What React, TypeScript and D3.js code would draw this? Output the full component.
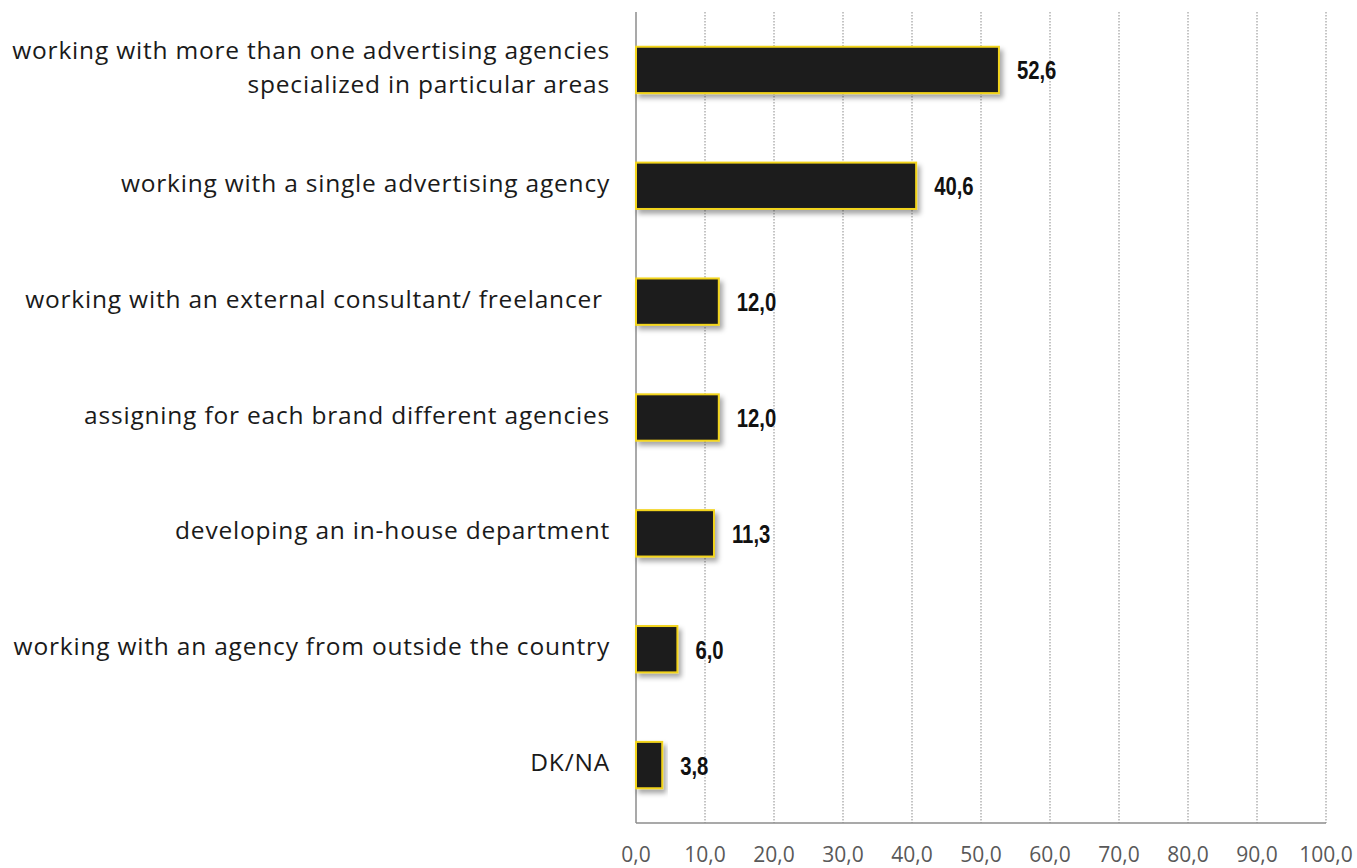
import React from "react";
import * as d3 from "d3";

const categories: string[][] = [
  ["working with more than one advertising agencies", "specialized in particular areas"],
  ["working with a single advertising agency"],
  ["working with an external consultant/ freelancer "],
  ["assigning for each brand different agencies"],
  ["developing an in-house department"],
  ["working with an agency from outside the country"],
  ["DK/NA"],
];
const values: number[] = [52.6, 40.6, 12.0, 12.0, 11.3, 6.0, 3.8];
const tickValues: number[] = [0, 10, 20, 30, 40, 50, 60, 70, 80, 90, 100];

const W = 1357;
const H = 868;
const left = 636;
const right = 1326;
const top = 12;
const bottom = 823;

const fmt = (v: number) => v.toFixed(1).replace(".", ",");

export default function App() {
  const x = d3.scaleLinear().domain([0, 100]).range([left, right]);
  const y = d3
    .scaleBand<number>()
    .domain(d3.range(values.length))
    .range([top, bottom])
    .paddingInner(0.6)
    .paddingOuter(0.3);

  return (
    <svg
      width={W}
      height={H}
      style={{ position: "absolute", left: 0, top: 0, background: "#fff" }}
    >
      <defs>
        <filter id="barShadow" x="-10%" y="-30%" width="130%" height="180%">
          <feDropShadow dx="3" dy="4" stdDeviation="2.5" floodColor="#000" floodOpacity="0.35" />
        </filter>
      </defs>
      {tickValues.slice(1).map((t) => (
        <line
          key={"g" + t}
          x1={x(t)}
          x2={x(t)}
          y1={top}
          y2={bottom}
          stroke="#8a8a8a"
          strokeWidth={1}
          strokeDasharray="1.5,1.5"
        />
      ))}
      <line x1={left} x2={right} y1={bottom} y2={bottom} stroke="#8c8c8c" strokeWidth={1.5} />
      <line x1={left} x2={left} y1={top} y2={bottom} stroke="#8c8c8c" strokeWidth={1.5} />
      {tickValues.map((t) => (
        <text
          key={"t" + t}
          x={x(t)}
          y={862}
          textAnchor="middle"
          fontFamily="'Open Sans', sans-serif"
          fontSize={21}
          fill="#595959"
        >
          {fmt(t)}
        </text>
      ))}
      {values.map((v, i) => {
        const by = y(i)!;
        const bh = y.bandwidth();
        const cy = by + bh / 2;
        const lines = categories[i];
        const lh = 34;
        return (
          <g key={"b" + i}>
            <rect
              x={x(0)}
              y={by}
              width={x(v) - x(0)}
              height={bh}
              fill="#1c1a1f"
              stroke="#f2d41c"
              strokeWidth={2}
              filter="url(#barShadow)"
            />
            <text
              transform={`translate(${x(v) + 18},${cy + 9.5}) scale(0.78,1)`}
              fontFamily="'Liberation Sans', Arial, sans-serif"
              fontWeight="bold"
              fontSize={26}
              fill="#111"
            >
              {fmt(v)}
            </text>
            {lines.map((s, k) => (
              <text
                key={k}
                x={610}
                y={cy + 6 + (k - (lines.length - 1) / 2) * lh}
                textAnchor="end"
                fontFamily="'Open Sans', sans-serif"
                fontSize={24.5}
                letterSpacing={0.8}
                fill="#1a1a1a"
                style={{ whiteSpace: "pre" }}
              >
                {s}
              </text>
            ))}
          </g>
        );
      })}
    </svg>
  );
}
